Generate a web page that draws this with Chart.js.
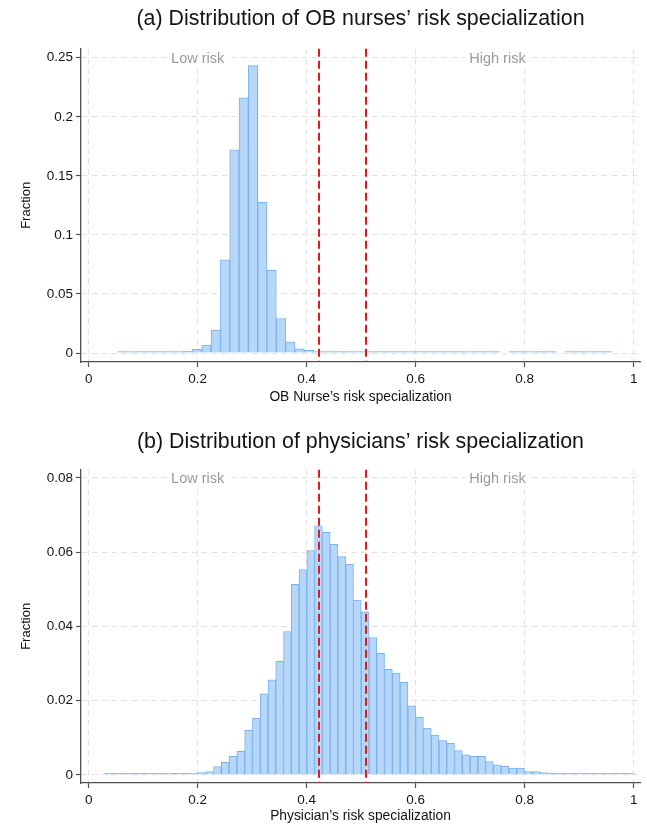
<!DOCTYPE html>
<html><head><meta charset="utf-8">
<script src="https://cdn.jsdelivr.net/npm/chart.js@4.4.1/dist/chart.umd.min.js"></script>
<style>body{margin:0;background:#fff;}canvas{display:block;}</style>
</head><body>
<canvas id="c1" width="647" height="421"></canvas>
<canvas id="c2" width="647" height="406"></canvas>
<script>
// ---- data ----
const nurseBinCenters = [0.0621,0.0792,0.0963,0.1134,0.1305,0.1476,0.1647,0.1818,0.1989,0.2160,0.2331,0.2502,0.2673,0.2844,0.3015,0.3186,0.3357,0.3528,0.3699,0.3870,0.4041,0.4212,0.4383,0.4554,0.4725,0.4896,0.5067,0.5238,0.5409,0.5580,0.5751,0.5922,0.6093,0.6264,0.6435,0.6606,0.6777,0.6948,0.7119,0.7290,0.7461,0.7632,0.7803,0.7974,0.8145,0.8316,0.8487,0.8658,0.8829,0.9000,0.9171,0.9342,0.9513];
const nurseFractions = [0.0003,0.0003,0.0003,0.0003,0.0006,0.0007,0.0012,0.0016,0.0032,0.0068,0.0194,0.0789,0.1720,0.2160,0.2433,0.1277,0.0700,0.0292,0.0095,0.0036,0.0023,0.0012,0.0008,0.0006,0.0005,0.0003,0.0003,0.0003,0.0003,0.0003,0.0003,0.0003,0.0003,0.0003,0.0003,0.0003,0.0003,0.0003,0.0003,0.0003,0.0003,null,0.0003,0.0003,0.0003,0.0003,0.0003,null,0.0003,0.0003,0.0003,0.0003,0.0003];
const physBinCenters = [0.0366,0.0509,0.0651,0.0794,0.0936,0.1079,0.1222,0.1364,0.1507,0.1649,0.1792,0.1935,0.2077,0.2220,0.2362,0.2505,0.2648,0.2790,0.2933,0.3075,0.3218,0.3361,0.3503,0.3646,0.3788,0.3931,0.4074,0.4216,0.4359,0.4501,0.4644,0.4787,0.4929,0.5072,0.5214,0.5357,0.5500,0.5642,0.5785,0.5927,0.6070,0.6213,0.6355,0.6498,0.6640,0.6783,0.6926,0.7068,0.7211,0.7353,0.7496,0.7639,0.7781,0.7924,0.8066,0.8209,0.8352,0.8494,0.8637,0.8779,0.8922,0.9065,0.9207,0.9350,0.9492,0.9635,0.9778,0.9920];
const physFractions = [0.0001,0.0001,0.0001,0.0001,0.0001,0.0002,0.0002,0.0002,0.0002,0.0003,0.0003,0.0005,0.0006,0.0009,0.0022,0.0034,0.0050,0.0063,0.0120,0.0153,0.0218,0.0256,0.0306,0.0386,0.0513,0.0553,0.0604,0.0671,0.0653,0.0621,0.0588,0.0567,0.0471,0.0439,0.0370,0.0327,0.0284,0.0274,0.0249,0.0186,0.0155,0.0126,0.0107,0.0092,0.0085,0.0065,0.0054,0.0050,0.0050,0.0036,0.0027,0.0023,0.0018,0.0018,0.0009,0.0009,0.0006,0.0004,0.0003,0.0003,0.0003,0.0005,0.0002,0.0002,0.0001,0.0001,0.0001,0.0001];
const xTicks = [0,0.2,0.4,0.6,0.8,1];
const nurseYTicks = [0,0.05,0.1,0.15,0.2,0.25];
const physYTicks = [0,0.02,0.04,0.06,0.08];
const riskCutoffs = [0.422,0.509];
const riskLabels = ['Low risk','High risk'];
const riskLabelX = [0.2,0.75];

// ---- styling ----
const FONT = "'Liberation Sans', Arial, Helvetica, sans-serif";
const AXIS_COLOR = '#505050';
const GRID_COLOR = '#e3e3e3';
const TEXT_COLOR = '#141414';
const fmt = v => String(parseFloat(Number(v).toFixed(3)));

const riskPlugin = {
  id: 'riskMarks',
  afterDatasetsDraw(chart) {
    const {ctx, chartArea, scales: {x, y}} = chart;
    ctx.save();
    ctx.strokeStyle = '#e31a1c';
    ctx.lineWidth = 2;
    ctx.setLineDash([8, 4]);
    riskCutoffs.forEach(v => {
      const px = Math.round(x.getPixelForValue(v));
      ctx.beginPath();
      ctx.moveTo(px, chartArea.top);
      ctx.lineTo(px, chartArea.bottom);
      ctx.stroke();
    });
    ctx.setLineDash([]);
    const yTop = y.getPixelForValue(chart.options.plugins.riskMarks.labelY);
    ctx.font = '14.5px ' + FONT;
    ctx.textAlign = 'center';
    ctx.textBaseline = 'middle';
    riskLabels.forEach((t, i) => {
      const px = x.getPixelForValue(riskLabelX[i]);
      const w = ctx.measureText(t).width;
      ctx.fillStyle = '#ffffff';
      ctx.fillRect(px - w / 2 - 3, yTop - 9, w + 6, 18);
      ctx.fillStyle = '#9a9a9a';
      ctx.fillText(t, px, yTop + 1);
    });
    ctx.restore();
  }
};

function makeChart(id, o) {
  const data = o.centers.map((c, i) => ({x: c, y: o.values[i]}));
  return new Chart(document.getElementById(id), {
    type: 'bar',
    data: {datasets: [{
      data,
      backgroundColor: '#b7d7f8',
      borderColor: '#78b3ee',
      borderWidth: 1,
      barPercentage: 1,
      categoryPercentage: 1,
      minBarLength: 1.5
    }]},
    options: {
      responsive: false,
      animation: false,
      devicePixelRatio: 1,
      layout: {padding: {left: 0, right: 7, top: 0, bottom: 0}},
      plugins: {
        legend: {display: false},
        tooltip: {enabled: false},
        title: {
          display: true, text: o.title, fullSize: false,
          font: {family: FONT, size: 21.4, weight: 'normal'}, color: TEXT_COLOR,
          padding: o.titlePad
        },
        riskMarks: {labelY: o.labelY}
      },
      scales: {
        x: {
          type: 'linear', min: -0.0141, max: 1.0115, offset: false,
          afterBuildTicks: s => { s.ticks = xTicks.map(v => ({value: v})); },
          afterFit: s => { s.height = o.xHeight; },
          ticks: {font: {family: FONT, size: 13.5}, color: TEXT_COLOR, padding: 4, maxRotation: 0, autoSkip: false, callback: fmt},
          grid: {color: GRID_COLOR, lineWidth: 1, offset: false, tickColor: AXIS_COLOR, tickLength: 5, tickWidth: 1.2},
          border: {color: AXIS_COLOR, width: 1.3, dash: [6, 4]},
          title: {display: true, text: o.xTitle, font: {family: FONT, size: 13.8}, color: TEXT_COLOR, padding: {top: 0, bottom: o.xTitlePad}}
        },
        y: {
          min: o.yMin, max: o.yMax,
          afterBuildTicks: s => { s.ticks = o.yTicks.map(v => ({value: v})); },
          afterFit: s => { s.width = 81; },
          ticks: {font: {family: FONT, size: 13.5}, color: TEXT_COLOR, padding: 3, callback: fmt},
          grid: {color: GRID_COLOR, lineWidth: 1, tickColor: AXIS_COLOR, tickLength: 5, tickWidth: 1.2},
          border: {color: AXIS_COLOR, width: 1.3, dash: [6, 4]},
          title: {display: true, text: 'Fraction', font: {family: FONT, size: 13}, color: TEXT_COLOR, padding: {top: 19, bottom: 0}}
        }
      }
    },
    plugins: [riskPlugin]
  });
}

makeChart('c1', {
  title: '(a) Distribution of OB nurses’ risk specialization',
  xTitle: 'OB Nurse\u2019s risk specialization',
  centers: nurseBinCenters, values: nurseFractions,
  yTicks: nurseYTicks, yMin: -0.0076, yMax: 0.2577, labelY: 0.25,
  titlePad: {top: 6, bottom: 17}, xHeight: 59, xTitlePad: 16
});
makeChart('c2', {
  title: '(b) Distribution of physicians’ risk specialization',
  xTitle: 'Physician\u2019s risk specialization',
  centers: physBinCenters, values: physFractions,
  yTicks: physYTicks, yMin: -0.0022, yMax: 0.0822, labelY: 0.08,
  titlePad: {top: 8, bottom: 15}, xHeight: 44, xTitlePad: 2.5
});
</script>
</body></html>
